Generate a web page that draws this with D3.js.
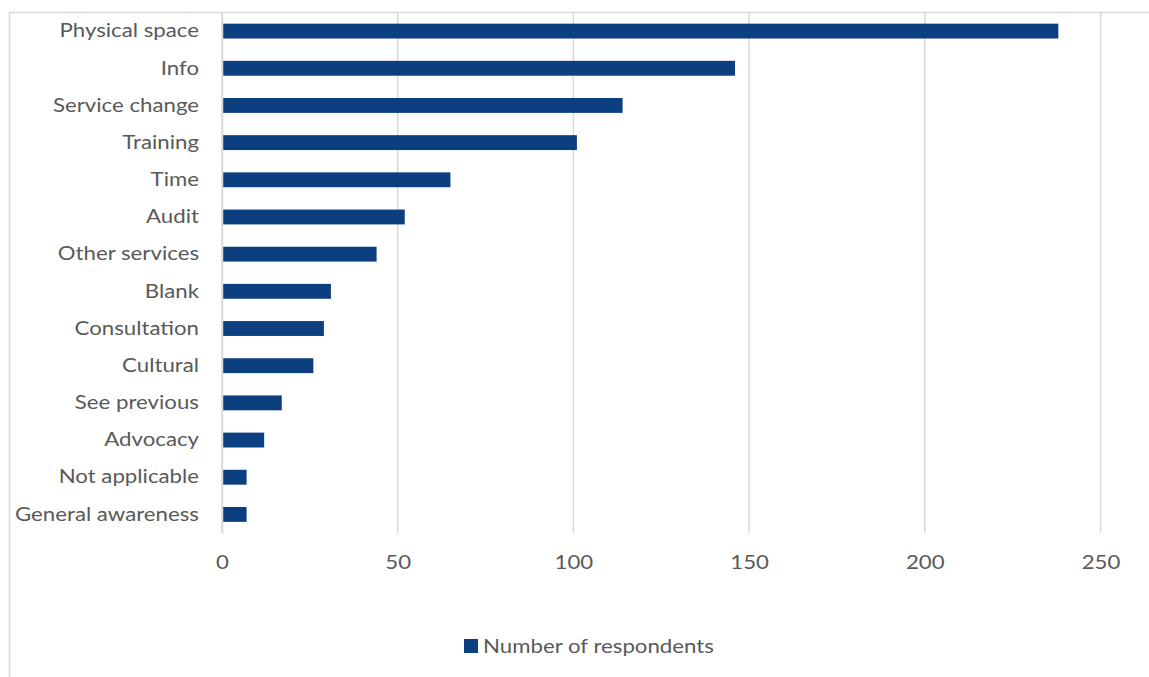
<!DOCTYPE html>
<html><head><meta charset="utf-8">
<script src="https://cdn.jsdelivr.net/npm/d3@7"></script>
<style>body{margin:0;background:#fff}svg{display:block}</style>
</head><body>
<svg id="c" width="1149" height="677"></svg>
<script>
const categories = ["Physical space","Info","Service change","Training","Time","Audit","Other services","Blank","Consultation","Cultural","See previous","Advocacy","Not applicable","General awareness"];
const values = [238,146,114,101,65,52,44,31,29,26,17,12,7,7];
const xTicks = [0,50,100,150,200,250];
const seriesName = "Number of respondents";

const svg = d3.select("#c");
const font = "Lato, 'Open Sans', sans-serif";
const fs = 19.5;
const textColor = "#595959";
const gridColor = "#d9d9d9";
const barColor = "#0b3f7f";

// chart border
svg.append("path").attr("d","M9.5,677 V12.5 H1149").attr("fill","none").attr("stroke",gridColor).attr("stroke-width",1.5);

const x = d3.scaleLinear().domain([0,250]).range([222,1100.5]);
const y = d3.scaleBand().domain(categories).range([12.5,533]).paddingInner(0.6).paddingOuter(0.3);

// gridlines
svg.append("g").selectAll("line").data(xTicks).join("line")
  .attr("x1",d=>x(d)).attr("x2",d=>x(d)).attr("y1",12.5).attr("y2",533)
  .attr("stroke",gridColor).attr("stroke-width",1.5);

// bars
svg.append("g").selectAll("rect").data(values).join("rect")
  .attr("x",x(0)).attr("y",(d,i)=>y(categories[i]))
  .attr("width",d=>x(d)-x(0)).attr("height",y.bandwidth())
  .attr("fill",barColor);

// y axis
const yAxis = svg.append("g").attr("transform",`translate(${x(0)},0)`)
  .call(d3.axisLeft(y).tickSize(0).tickPadding(23));
yAxis.select(".domain").attr("stroke",gridColor).attr("stroke-width",1.5);
yAxis.selectAll("text").attr("font-family",font).attr("font-size",fs).attr("fill",textColor);

// x axis
const xAxis = svg.append("g").attr("transform",`translate(0,533)`)
  .call(d3.axisBottom(x).tickValues(xTicks).tickSize(0).tickPadding(22));
xAxis.select(".domain").remove();
xAxis.selectAll("text").attr("font-family",font).attr("font-size",fs).attr("fill",textColor);

// legend
const lg = svg.append("g").attr("transform","translate(464,639)");
lg.append("rect").attr("width",14).attr("height",14).attr("fill",barColor);
lg.append("text").attr("x",19).attr("y",14).attr("font-family",font).attr("font-size",fs).attr("fill",textColor).text(seriesName);

// widen text horizontally to match reference glyph proportions
const stretch = 1.14;
svg.selectAll("text").each(function(){
  const w = this.getComputedTextLength();
  d3.select(this).attr("textLength", w*stretch).attr("lengthAdjust","spacingAndGlyphs");
});
</script>
</body></html>
